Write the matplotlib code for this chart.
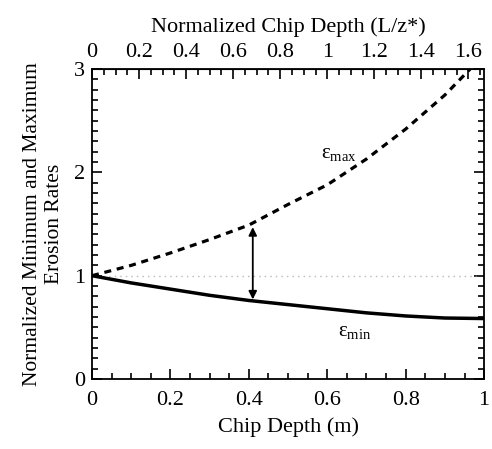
import matplotlib
matplotlib.use("Agg")
import matplotlib.pyplot as plt
from matplotlib.ticker import MultipleLocator

plt.rcParams['font.family'] = ['Liberation Serif', 'DejaVu Serif']
plt.rcParams['mathtext.fontset'] = 'custom'
plt.rcParams['mathtext.rm'] = 'Liberation Serif'

# chip depth (m) and normalised erosion rates
depth_max = [0.0, 0.1, 0.2, 0.3, 0.4, 0.5, 0.6, 0.7, 0.8, 0.9, 0.964]
eps_max = [1.0, 1.10, 1.22, 1.35, 1.49, 1.69, 1.88, 2.13, 2.42, 2.75, 3.0]
depth_min = [0.0, 0.1, 0.2, 0.3, 0.4, 0.5, 0.6, 0.7, 0.8, 0.9, 1.0]
eps_min = [1.0, 0.93, 0.87, 0.81, 0.76, 0.72, 0.68, 0.64, 0.61, 0.59, 0.585]
ref_x = [0.0, 0.98]
ref_y = [1.0, 1.0]
zstar = 0.6

bottom_ticks = [0, 0.2, 0.4, 0.6, 0.8, 1.0]
bottom_labels = ['0', '0.2', '0.4', '0.6', '0.8', '1']
top_ticks = [0, 0.2, 0.4, 0.6, 0.8, 1.0, 1.2, 1.4, 1.6]
top_labels = ['0', '0.2', '0.4', '0.6', '0.8', '1', '1.2', '1.4', '1.6']
y_ticks = [0, 1, 2, 3]
y_labels = ['0', '1', '2', '3']

fig = plt.figure(figsize=(4.92, 4.49), dpi=100)
ax = fig.add_axes([0.187, 0.156, 0.797, 0.690])

ax.plot(ref_x, ref_y, color='#b8b8b8', lw=1.0, ls=(0, (1, 3)))
ax.plot(depth_max, eps_max, color='black', lw=2.3, ls=(0, (2.2, 1.8)))
ax.plot(depth_min, eps_min, color='black', lw=2.5)

ax.annotate('', xy=(0.41, 0.77), xytext=(0.41, 1.47),
            arrowprops=dict(arrowstyle='<|-|>', color='black', lw=1.3,
                            mutation_scale=12, shrinkA=0, shrinkB=0))

ax.text(0.63, 2.17, 'ε$_{\\mathrm{max}}$', fontsize=15, ha='center', va='center')
ax.text(0.67, 0.45, 'ε$_{\\mathrm{min}}$', fontsize=15, ha='center', va='center')

ax.set_xlim(0, 1)
ax.set_ylim(0, 3)
ax.set_xticks(bottom_ticks)
ax.set_xticklabels(bottom_labels)
ax.xaxis.set_minor_locator(MultipleLocator(0.05))
ax.set_yticks(y_ticks)
ax.set_yticklabels(y_labels)
ax.yaxis.set_minor_locator(MultipleLocator(0.1))
ax.tick_params(which='both', direction='in', right=True, labelsize=16, width=1.2)
ax.tick_params(which='major', length=7)
ax.tick_params(which='minor', length=4)
ax.tick_params(axis='x', which='major', pad=9)
ax.tick_params(axis='y', which='major', pad=5)
for s in ax.spines.values():
    s.set_linewidth(1.3)

ax.set_xlabel('Chip Depth (m)', fontsize=16, labelpad=5)
ax.set_ylabel('Normalized Minimum and Maximum\nErosion Rates', fontsize=15.5,
              labelpad=7, linespacing=1.25)

top = ax.secondary_xaxis('top', functions=(lambda x: x / zstar, lambda t: t * zstar))
top.set_xticks(top_ticks)
top.set_xticklabels(top_labels)
top.xaxis.set_minor_locator(MultipleLocator(0.05))
top.tick_params(which='both', direction='in', labelsize=16, width=1.2)
top.tick_params(which='major', length=7, pad=5)
top.tick_params(which='minor', length=4)
top.set_xlabel('Normalized Chip Depth (L/z*)', fontsize=16, labelpad=8)

fig.savefig('out.png', dpi=100)
